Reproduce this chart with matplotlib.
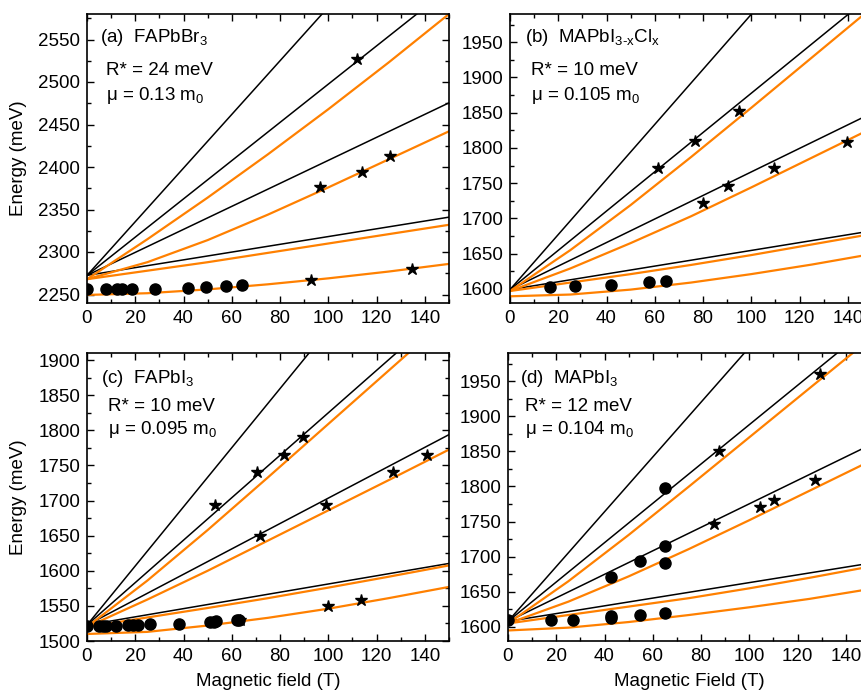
import matplotlib
matplotlib.use('Agg')
import matplotlib.pyplot as plt
from matplotlib.ticker import MultipleLocator

plt.rcParams['font.family'] = ['Liberation Sans', 'DejaVu Sans']
plt.rcParams['mathtext.fontset'] = 'custom'
plt.rcParams['mathtext.rm'] = 'Liberation Sans'
plt.rcParams['mathtext.it'] = 'Liberation Sans:italic'
plt.rcParams['mathtext.default'] = 'regular'
plt.rcParams['font.size'] = 13.5

orange = '#ff8000'

# fan chart sample fields (T)
B_black = [0, 150]
B_orange = [0, 25, 50, 75, 100, 125, 150]

# (a) FAPbBr3
a_circ_B = [0, 8, 12.4, 14.6, 18.8, 28.2, 41.9, 49.2, 57.8, 64.3]
a_circ_E = [2256, 2256, 2256, 2256, 2256, 2256.7, 2258, 2258.3, 2259.9, 2261]
a_star_B = [92.7, 96.7, 113.9, 125.6, 111.7, 134.7]
a_star_E = [2266.6, 2376, 2393.8, 2413, 2526.5, 2279.6]
a_black = [[2272.5, 2746], [2272.5, 2610], [2272.5, 2475.5], [2272.5, 2341]]
a_orange = [[2268, 2315, 2364, 2415, 2468, 2523, 2580],
            [2268, 2288, 2314, 2344, 2376, 2409, 2442],
            [2268, 2278, 2288, 2299, 2310, 2321, 2332],
            [2249.5, 2251.5, 2256, 2262, 2269, 2277, 2286]]

# (b) MAPbI3-xClx
b_circ_B = [16.7, 26.8, 41.8, 57.6, 64.8]
b_circ_E = [1602.8, 1603.8, 1605.2, 1610, 1611.4]
b_star_B = [61.3, 76.8, 94.7, 79.9, 90.3, 109.3, 139.6]
b_star_E = [1771.2, 1810.5, 1851.8, 1722.3, 1746.5, 1772, 1809.1]
b_black = [[1599, 2185], [1599, 2017], [1599, 1849.5], [1599, 1682.4]]
b_orange = [[1597, 1655, 1719, 1787, 1857, 1928, 1999],
            [1597, 1629, 1665, 1703, 1744, 1786, 1828],
            [1597, 1609, 1621, 1634, 1648, 1663, 1678],
            [1589.5, 1592, 1599, 1609, 1621, 1634.5, 1649.5]]

# (c) FAPbI3
c_circ_B = [0, 5, 6.5, 8, 12, 17, 19, 21, 26, 38, 51, 52.5, 53.5, 62, 63]
c_circ_E = [1521.5, 1521.5, 1521.5, 1521.5, 1522, 1522.5, 1522.5, 1522.5,
            1523.7, 1524.6, 1527.5, 1527.5, 1527.8, 1530.3, 1530.3]
c_star_B = [52.9, 70.6, 81.5, 89.6, 71.7, 98.9, 126.9, 140.7, 99.9, 113.7, 63.3]
c_star_E = [1694.3, 1741.2, 1765, 1791, 1649.8, 1694.3, 1740.8, 1765, 1549.3,
            1558.8, 1530]
c_black = [[1522.7, 2154], [1522.7, 1976], [1522.7, 1793.8], [1522.7, 1610.4]]
c_orange = [[1520, 1586, 1658, 1733, 1809, 1885, 1961],
            [1520, 1559, 1600, 1643, 1686, 1729, 1772.5],
            [1520, 1533.5, 1547, 1561, 1576, 1591.5, 1607.6],
            [1510, 1513, 1522, 1533, 1546, 1561, 1577]]

# (d) MAPbI3
d_circ_B = [0, 17.8, 26.8, 42.6, 42.6, 54.8, 65.1, 42.6, 54.8, 65.1, 65.1, 65.1]
d_circ_E = [1610, 1610.4, 1610.4, 1612.8, 1616, 1617, 1619.5, 1670.7, 1694,
            1715.9, 1691, 1798.5]
d_star_B = [85.5, 87.6, 104.4, 110.3, 127.4, 129.2]
d_star_E = [1746.7, 1851, 1771.4, 1781.4, 1809.4, 1960.4]
d_black = [[1608, 2193], [1608, 2028], [1608, 1859], [1608, 1690.7]]
d_orange = [[1605, 1665, 1731, 1800, 1870, 1940, 2010],
            [1605, 1636, 1672, 1711, 1752, 1794, 1836],
            [1605, 1617, 1629, 1641, 1655, 1670, 1686],
            [1595, 1599, 1607, 1617, 1628, 1640, 1654]]

fig = plt.figure(figsize=(8.62, 6.90), dpi=100)
W, H = 862, 690


def rect(left, right, top, bottom):
    return [left / W, 1 - bottom / H, (right - left) / W, (bottom - top) / H]


panels = [
    (rect(87, 449, 14, 303), (2240, 2580), 2250, 2550,
     a_circ_B, a_circ_E, a_star_B, a_star_E, a_black, a_orange,
     [r'(a)  FAPbBr$_3$', 'R* = 24 meV', r'μ = 0.13 m$_0$'],
     (0.036, 0.052, 0.917, 0.804, 0.717), None, True),
    (rect(510, 872, 14, 303), (1580, 1990), 1600, 1950,
     b_circ_B, b_circ_E, b_star_B, b_star_E, b_black, b_orange,
     [r'(b)  MAPbI$_{3\text{-}x}$Cl$_x$', 'R* = 10 meV', r'μ = 0.105 m$_0$'],
     (0.041, 0.058, 0.917, 0.804, 0.717), None, False),
    (rect(87, 449, 353, 641), (1500, 1910), 1500, 1900,
     c_circ_B, c_circ_E, c_star_B, c_star_E, c_black, c_orange,
     [r'(c)  FAPbI$_3$', 'R* = 10 meV', r'μ = 0.095 m$_0$'],
     (0.040, 0.057, 0.913, 0.813, 0.733), 'Magnetic field (T)', True),
    (rect(508, 870, 353, 641), (1580, 1990), 1600, 1950,
     d_circ_B, d_circ_E, d_star_B, d_star_E, d_black, d_orange,
     [r'(d)  MAPbI$_3$', 'R* = 12 meV', r'μ = 0.104 m$_0$'],
     (0.033, 0.047, 0.913, 0.813, 0.733), 'Magnetic Field (T)', False),
]

for (pos, ylim, y0, y1, cB, cE, sB, sE, blk, org, texts, tp, xlab, ylab) in panels:
    ax = fig.add_axes(pos)
    for E in blk:
        ax.plot(B_black, E, color='black', lw=1.1, zorder=2)
    for E in org:
        ax.plot(B_orange, E, color=orange, lw=1.6, zorder=2)
    ax.plot(cB, cE, 'o', color='black', ms=8, zorder=3)
    ax.plot(sB, sE, '*', color='black', ms=9, zorder=3)
    ax.set_xlim(0, 150)
    ax.set_ylim(*ylim)
    ax.set_xticks(range(0, 141, 20))
    ax.set_yticks(range(y0, y1 + 1, 50))
    ax.xaxis.set_minor_locator(MultipleLocator(10))
    ax.yaxis.set_minor_locator(MultipleLocator(25))
    ax.tick_params(which='both', direction='in', top=True, right=True,
                   labelsize=13.5, width=1.0)
    ax.tick_params(which='major', length=5, pad=5)
    ax.tick_params(which='minor', length=3)
    for sp in ax.spines.values():
        sp.set_linewidth(1.2)
    ax.text(tp[0], tp[2], texts[0], transform=ax.transAxes, va='center')
    ax.text(tp[1], tp[3], texts[1], transform=ax.transAxes, va='center')
    ax.text(tp[1], tp[4], texts[2], transform=ax.transAxes, va='center')
    if xlab:
        ax.set_xlabel(xlab, labelpad=6)
    if ylab:
        ax.set_ylabel('Energy (meV)', labelpad=8)

fig.savefig('out.png', dpi=100)
